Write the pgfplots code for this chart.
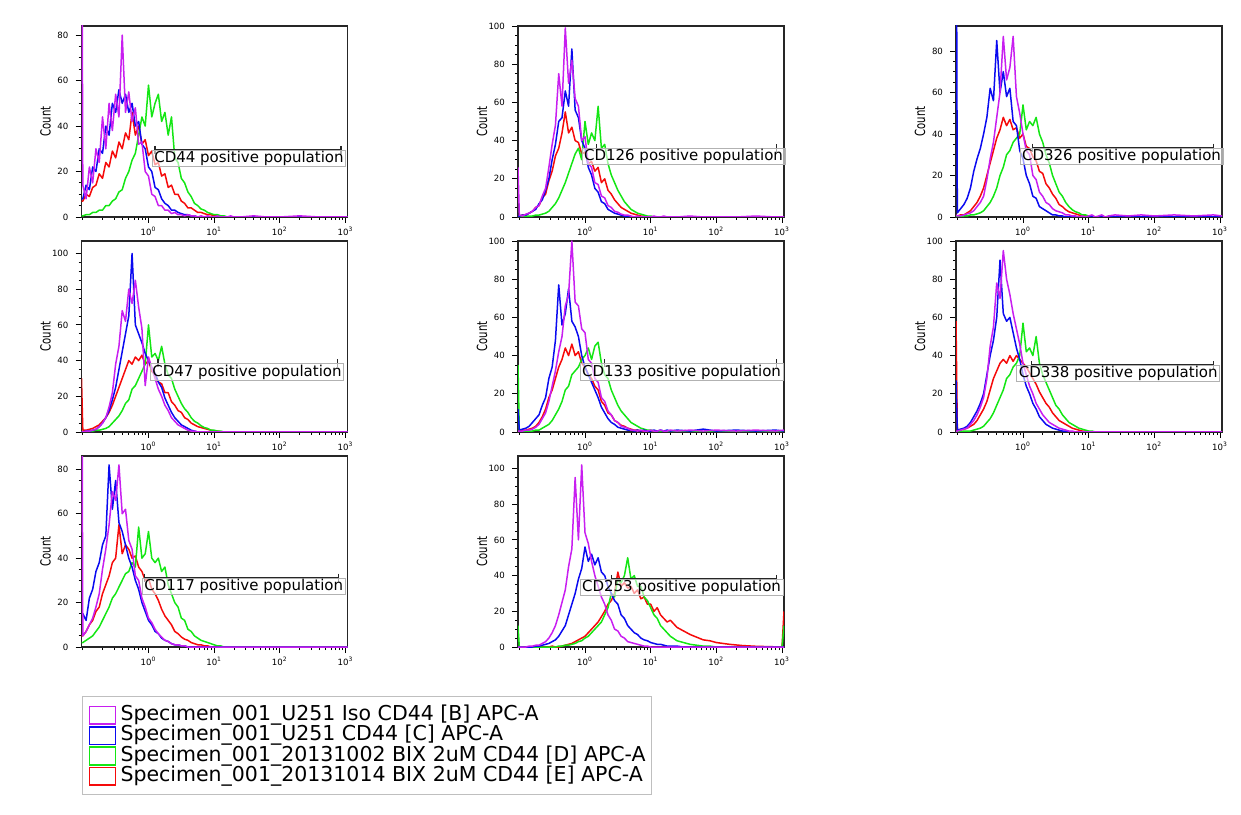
\documentclass[border=0pt]{standalone}
\usepackage{fontspec}
\setmainfont{DejaVu Sans}
\usepackage{graphicx}
\usepackage{pgfplots}
\pgfplotsset{compat=1.18}
\usepackage{pgfplotstable}

\definecolor{cM}{RGB}{200,30,240}
\definecolor{cB}{RGB}{10,10,240}
\definecolor{cG}{RGB}{20,230,20}
\definecolor{cR}{RGB}{245,10,10}

% ---------- CD44 ----------
\pgfplotstableread{
lx m b g r
-1.02 200 8 0.5 7
-1.00 14 8 0.5 7
-0.95 8 14 1 10
-0.90 22 12 1 9
-0.85 15 22 2 13
-0.80 30 20 2 14
-0.75 24 30 3 19
-0.70 44 28 3 17
-0.65 30 40 5 24
-0.60 50 36 5 22
-0.55 38 50 7 29
-0.50 54 46 8 26
-0.45 44 56 11 33
-0.40 80 50 12 30
-0.35 46 54 17 37
-0.30 55 46 20 34
-0.25 42 50 25 46
-0.20 48 40 28 36
-0.15 32 42 36 40
-0.10 33 32 44 32
-0.05 20 30 40 34
0.00 18 22 58 27
0.05 10 20 44 29
0.10 9 13 50 23
0.15 5 12 54 24
0.20 5 8 42 18
0.25 3 6 46 19
0.30 3 5 36 13
0.35 1.5 3 44 14
0.40 2 3 26 10
0.45 1 2 24 10
0.50 1 1.5 17 7
0.55 0.5 1 15 6
0.60 1 1 11 4
0.65 0.5 0.5 9 4
0.70 0.5 0.5 6 3
0.75 0 0 5 2
0.80 0.5 0 3.5 2
0.85 0 0 3 1.5
0.90 0.5 0 2 1
0.95 0 0 1.5 1
1.00 0 0 1 0.5
1.05 0.5 0 1 0.5
1.10 0 0 0.5 0.5
1.15 0 0 0.5 0
1.20 0 0 0 0
1.25 0.5 0 0 0
1.30 0 0 0 0
1.40 0 0 0 0
1.60 0.5 0 0 0
1.80 0 0 0 0
2.00 0 0 0 0
2.30 0.5 0 0 0
2.60 0 0 0 0
2.90 0 0 0 0
3.03 0 0 0 0
}\tA

% ---------- CD126 ----------
\pgfplotstableread{
lx m b g r
-1.02 26 0.5 0 0.5
-1.00 1 0.5 0 0.5
-0.95 0.5 1 0 1
-0.90 1.5 1 0.5 1
-0.85 2 2 0.5 2
-0.80 3 3 0.5 3
-0.75 5 4 1 5
-0.70 6 7 1 6
-0.65 11 9 1.5 10
-0.60 15 14 2 12
-0.55 26 20 3 19
-0.50 38 30 5 24
-0.45 48 38 7 32
-0.40 75 50 10 36
-0.35 58 52 14 44
-0.30 99 66 18 55
-0.25 70 58 23 44
-0.20 82 88 28 47
-0.15 62 56 33 40
-0.10 58 52 36 39
-0.05 40 40 30 33
0.00 42 36 50 34
0.05 28 26 38 28
0.10 26 22 44 29
0.15 18 15 40 24
0.20 17 13 58 26
0.25 11 8 36 18
0.30 10 7 38 20
0.35 6 4 28 14
0.40 5 3 22 12
0.45 3 2 18 9
0.50 2.5 1.5 14 7
0.55 1.5 1 11 5
0.60 1 0.5 8 4
0.65 1 0.5 6 3
0.70 0.5 0 4 2
0.75 0 0 3 1.5
0.80 0.5 0 2 1
0.85 0 0 1.5 0.5
0.90 0 0 1 0.5
0.95 0 0 0.5 0
1.00 0 0 0.5 0
1.05 0.5 0 0 0
1.10 0 0 0 0
1.15 0 0 0 0
1.20 0.5 0 0 0
1.25 0 0 0 0
1.30 0 0 0 0
1.40 0 0 0 0
1.60 0.5 0 0 0
1.80 0 0 0 0
2.00 0 0 0 0
2.30 0 0 0 0
2.60 0.5 0 0 0
2.90 0 0 0 0
3.03 0 0 0 0
}\tB

% ---------- CD326 ----------
\pgfplotstableread{
lx m b g r
-1.02 1 200 0 0.5
-1.00 0.5 2 0 0.5
-0.95 0.5 4 0 1
-0.90 1 6 0.5 1
-0.85 1.5 9 0.5 2
-0.80 2 14 1 3
-0.75 3 22 1 5
-0.70 5 28 1.5 7
-0.65 7 33 2 10
-0.60 10 40 3 14
-0.55 18 48 5 20
-0.50 28 62 7 26
-0.45 36 56 10 32
-0.40 48 85 14 38
-0.35 60 60 20 42
-0.30 87 70 24 48
-0.25 66 58 30 44
-0.20 72 62 32 47
-0.15 87 46 36 42
-0.10 58 44 38 43
-0.05 50 32 40 38
0.00 40 28 54 40
0.05 32 20 42 34
0.10 30 16 46 33
0.15 20 10 44 29
0.20 18 9 48 27
0.25 12 5 40 22
0.30 10 4 36 21
0.35 7 3 30 16
0.40 6 2 26 14
0.45 4 1 20 11
0.50 3 1 16 9
0.55 2.5 0.5 12 6
0.60 2 0.5 10 5
0.65 1 0 7 3.5
0.70 1 0 5 2.5
0.75 0.5 0 3.5 2
0.80 0.5 0 2.5 1.5
0.85 0 0 2 1
0.90 0.5 0 1 0.5
0.95 0 0 1 0.5
1.00 0.5 0 0.5 0
1.05 1 0 0.5 0
1.10 0 0 0 0
1.15 0.5 0 0 0
1.20 1 0 0 0
1.25 0 0 0 0
1.30 0.5 0 0 0
1.40 1 0 0 0
1.60 0.5 0 0 0
1.80 1 0 0 0
2.00 0.5 0 0 0
2.30 1 0 0 0
2.60 0.5 0 0 0
2.90 1 0 0 0
3.03 0.5 0 0 0
}\tC

% ---------- CD47 ----------
\pgfplotstableread{
lx m b g r
-1.02 0 0 0 30
-1.00 0 0 0 1
-0.95 0.5 0.5 0 1
-0.90 0.5 0.5 0.5 1.5
-0.85 1 1 0.5 2
-0.80 1.5 1.5 1 3
-0.75 3 3 1 4
-0.70 5 5 1.5 6
-0.65 8 8 2 8
-0.60 14 12 3 11
-0.55 22 18 5 15
-0.50 38 25 7 20
-0.45 48 35 9 25
-0.40 68 45 12 30
-0.35 62 55 16 35
-0.30 80 65 18 40
-0.25 72 100 24 38
-0.20 85 60 26 42
-0.15 70 55 30 40
-0.10 58 50 34 43
-0.05 26 44 38 38
0.00 42 40 60 40
0.05 36 36 42 34
0.10 30 33 44 32
0.15 24 28 40 28
0.20 20 25 48 27
0.25 15 19 38 22
0.30 12 15 32 22
0.35 8 11 30 17
0.40 6 8 24 15
0.45 4 6 20 12
0.50 3 4 16 11
0.55 2 3 13 8
0.60 1 2 11 7
0.65 0.5 1 8 5
0.70 0.5 0.5 6 4
0.75 0 0 5 3
0.80 0 0 3.5 2.5
0.85 0 0 2.5 2
0.90 0 0 2 1.5
0.95 0 0 1 1
1.00 0 0 1 0.5
1.05 0 0 0.5 0.5
1.10 0 0 0.5 0
1.15 0 0 0 0
1.20 0 0 0 0
1.25 0 0 0 0
1.30 0 0 0 0
1.40 0 0 0 0
1.60 0 0 0 0
1.80 0 0 0 0
2.00 0 0 0 0
2.30 0 0 0 0
2.60 0 0 0 0
2.90 0 0 0 0
3.03 0 0 0 0
}\tD

% ---------- CD133 ----------
\pgfplotstableread{
lx m b g r
-1.02 0.5 12 35 0.5
-1.00 0.5 1 0 0.5
-0.95 0.5 1.5 0 1
-0.90 1 2 0.5 1
-0.85 1 3 0.5 1.5
-0.80 1.5 5 0.5 2
-0.75 2.5 7 1 3
-0.70 4 9 1 5
-0.65 7 14 2 8
-0.60 10 18 3 12
-0.55 16 28 4 18
-0.50 24 34 6 22
-0.45 32 48 9 28
-0.40 42 77 12 34
-0.35 50 56 16 38
-0.30 66 62 22 44
-0.25 72 75 24 40
-0.20 100 58 30 46
-0.15 68 55 32 40
-0.10 66 50 34 42
-0.05 54 40 38 36
0.00 52 34 40 34
0.05 38 30 44 30
0.10 36 26 38 28
0.15 28 22 45 24
0.20 26 18 47 22
0.25 18 13 36 16
0.30 16 10 30 14
0.35 11 7 28 10
0.40 9 5 22 9
0.45 6 4 18 6
0.50 5 2.5 14 5
0.55 3 2 11 3.5
0.60 2.5 1.5 9 3
0.65 2 1 7 2
0.70 1 1 5 1.5
0.75 1 0.5 4 1
0.80 0.5 1 3 1
0.85 1 0.5 2 0.5
0.90 0.5 1 1.5 0.5
0.95 0.5 0.5 1 0
1.00 1 0.5 1 0
1.05 0.5 1 0.5 0
1.10 0.5 0.5 0.5 0
1.15 1 1 0 0
1.20 0.5 0.5 0 0
1.25 0.5 1 0 0
1.30 1 0.5 0 0
1.40 0.5 1 0 0
1.60 1 0.5 0 0
1.80 0.5 1.5 0 0
2.00 1 0.5 0 0
2.30 0.5 1 0 0
2.60 1 0.5 0 0
2.90 0.5 1 0 0
3.03 1 0.5 0 0
}\tE

% ---------- CD338 ----------
\pgfplotstableread{
lx m b g r
-1.02 0.5 27 0 58
-1.00 0.5 1 0 1
-0.95 1 1.5 0 1
-0.90 1.5 2 0.5 1.5
-0.85 2 3 0.5 2
-0.80 4 5 0.5 3
-0.75 6 8 1 4
-0.70 9 11 1.5 6
-0.65 13 15 2 9
-0.60 18 20 3 12
-0.55 28 30 5 16
-0.50 45 40 7 22
-0.45 55 48 10 28
-0.40 78 60 14 32
-0.35 70 90 18 36
-0.30 95 62 22 38
-0.25 80 58 28 36
-0.20 72 60 30 40
-0.15 62 52 34 37
-0.10 54 44 36 40
-0.05 46 38 40 38
0.00 36 30 57 36
0.05 30 24 42 34
0.10 24 20 44 31
0.15 20 15 40 28
0.20 15 12 50 25
0.25 12 8 36 21
0.30 9 6 30 18
0.35 7 4 26 15
0.40 5 3 22 13
0.45 4 2 18 10
0.50 3 1.5 14 8
0.55 2 1 12 6
0.60 1.5 0.5 9 5
0.65 1 0.5 7 4
0.70 0.5 0 5 3
0.75 0.5 0 4 2
0.80 0 0 3 1.5
0.85 0 0 2 1
0.90 0 0 1.5 0.5
0.95 0 0 1 0.5
1.00 0 0 0.5 0
1.05 0 0 0.5 0
1.10 0 0 0 0
1.15 0 0 0 0
1.20 0 0 0 0
1.25 0 0 0 0
1.30 0 0 0 0
1.40 0 0 0 0
1.60 0 0 0 0
1.80 0 0 0 0
2.00 0 0 0 0
2.30 0 0 0 0
2.60 0 0 0 0
2.90 0 0 0 0
3.03 0 0 0 0
}\tF

% ---------- CD117 ----------
\pgfplotstableread{
lx m b g r
-1.02 200 15 2 5
-1.00 5 15 2 5
-0.95 7 12 3 7
-0.90 10 22 4 10
-0.85 13 26 5 12
-0.80 18 34 7 16
-0.75 24 38 9 18
-0.70 35 46 12 24
-0.65 44 50 15 28
-0.60 55 82 18 32
-0.55 70 62 22 38
-0.50 66 75 24 40
-0.45 82 56 27 55
-0.40 60 52 30 42
-0.35 62 46 33 46
-0.30 48 40 34 44
-0.25 44 36 38 40
-0.20 32 30 36 41
-0.15 30 26 54 36
-0.10 22 20 40 34
-0.05 18 16 42 30
0.00 13 12 52 31
0.05 11 10 40 26
0.10 8 7 38 24
0.15 6 6 40 21
0.20 4.5 4 34 17
0.25 3 3 36 14
0.30 2.5 2.5 28 12
0.35 1.5 1.5 24 10
0.40 1 1 20 7
0.45 1 1 18 6
0.50 0.5 0.5 13 4.5
0.55 0.5 0.5 12 3.5
0.60 0 0 8 3
0.65 0 0 7 2
0.70 0 0 5 1.5
0.75 0 0 4 1
0.80 0 0 3 1
0.85 0 0 2.5 0.5
0.90 0 0 2 0.5
0.95 0 0 1.5 0
1.00 0 0 1 0
1.05 0 0 0.5 0
1.10 0 0 0.5 0
1.15 0 0 0 0
1.20 0 0 0 0
1.25 0 0 0 0
1.30 0 0 0 0
1.40 0 0 0 0
1.60 0 0 0 0
1.80 0 0 0 0
2.00 0 0 0 0
2.30 0 0 0 0
2.60 0 0 0 0
2.90 0 0 0 0
3.03 0 0 0 0
}\tG

% ---------- CD253 ----------
\pgfplotstableread{
lx m b g r
-1.02 0 0 12 0
-1.00 0 0 0 0
-0.95 0 0 0 0
-0.90 0 0 0 0
-0.85 0.5 0 0 0
-0.80 0.5 0 0 0
-0.75 1 0.5 0 0
-0.70 1 0.5 0 0
-0.65 2 1 0 0
-0.60 3 1.5 0 0
-0.55 5 2 0 0
-0.50 8 3 0 0.5
-0.45 12 4 0 0
-0.40 18 6 0.5 0
-0.35 25 9 0.5 0.5
-0.30 32 12 1 1
-0.25 45 18 1 1.5
-0.20 55 24 1.5 2
-0.15 95 30 2 3
-0.10 60 38 3 4
-0.05 102 44 3.5 5
0.00 64 56 5 6
0.05 58 48 6 8
0.10 48 52 8 10
0.15 40 46 10 12
0.20 34 50 12 14
0.25 28 42 14 17
0.30 24 40 18 20
0.35 18 34 22 24
0.40 15 30 30 26
0.45 10 26 28 30
0.50 9 24 38 42
0.55 6 18 36 34
0.60 5 16 40 36
0.65 3 12 50 33
0.70 2.5 10 38 34
0.75 2 8 40 30
0.80 1.5 7 34 32
0.85 1 5 34 27
0.90 0.5 4 28 28
0.95 0.5 3.5 26 24
1.00 0 2.5 22 24
1.05 0 2 18 20
1.10 0 1.5 16 22
1.15 0 1.5 12 18
1.20 0 1 10 16
1.25 0 0.5 8 14
1.30 0 0.5 6 15
1.40 0 0.5 3.5 11
1.50 0 0 2.5 9
1.60 0 0 1.5 7
1.70 0 0 1 5.5
1.80 0 0 0.5 4
1.90 0 0 0.5 3.5
2.00 0 0 0 2.5
2.10 0 0 0 2
2.20 0 0 0 1.5
2.40 0 0 0 0.8
2.60 0 0 0 0.4
2.80 0 0 0 0.2
3.00 0 0 0 0
3.03 0 0 12 20
}\tH

\newcommand\tickfont{\fontsize{4.3pt}{5pt}\selectfont}

\pgfplotsset{
  panel/.style={
    scale only axis, width=133pt, height=95.5pt, anchor=south west,
    xmin=-1.02, xmax=3.03, ymin=0,
    xtick={0,1,2,3},
    xticklabels={10\textsuperscript{0},10\textsuperscript{1},10\textsuperscript{2},10\textsuperscript{3}},
    minor xtick={-1,-0.699,-0.523,-0.398,-0.301,-0.222,-0.155,-0.097,-0.046,
      0.301,0.477,0.602,0.699,0.778,0.845,0.903,0.954,
      1.301,1.477,1.602,1.699,1.778,1.845,1.903,1.954,
      2.301,2.477,2.602,2.699,2.778,2.845,2.903,2.954},
    minor y tick num=3,
    xtick pos=bottom, ytick pos=left,
    tick align=outside, major tick length=3pt, minor tick length=1.5pt,
    tick style={black, line width=0.4pt},
    axis line style={black!85, line width=0.8pt},
    tick label style={font=\tickfont},
    xticklabel style={yshift=1.5pt},
    /pgf/number format/assume math mode=true,
    ylabel={\scalebox{0.72}[1]{Count}},
    ylabel style={at={(axis description cs:-0.135,0.5)}, anchor=center,
      font=\fontsize{7pt}{8pt}\selectfont},
    clip mode=individual,
    every axis plot/.append style={line width=0.75pt, line join=round},
  },
  sq/.style={legend image code/.code={%
    \path[draw=none] (0pt,0pt) -- (16pt,0pt);
    \draw[draw=#1, fill=none, line width=0.8pt] (1.5pt,-4.4pt) rectangle (14.5pt,4.4pt);}},
}

\newcommand\plotall[1]{%
  \addplot[cR] table[x=lx,y=r]{#1};
  \addplot[cG] table[x=lx,y=g]{#1};
  \addplot[cB] table[x=lx,y=b]{#1};
  \addplot[cM] table[x=lx,y=m]{#1};
}
\newcommand\gate[5]{%
  \addplot[black!85, line width=0.7pt, mark=|, mark size=2pt,
    mark options={line width=0.6pt}] coordinates {(#2,#1) (#3,#1)};
  \node[anchor=north, draw=black!30, line width=0.4pt, fill=white,
    fill opacity=0.6, text opacity=1, inner xsep=1pt, inner ysep=0.4pt,
    font=\fontsize{7.5pt}{8pt}\selectfont] at (axis cs:#4,#1) {#5};
}

\begin{document}
\begin{tikzpicture}
\useasboundingbox (0,0) rectangle (620.5pt,407pt);

% Row 1
\begin{axis}[panel, at={(40.75pt,298.5pt)}, ymax=84, ytick={0,20,40,60,80}]
\plotall\tA
\gate{29.5}{0.10}{2.93}{1.53}{CD44 positive population}
\end{axis}
\begin{axis}[panel, at={(259pt,298.5pt)}, ymax=100, ytick={0,20,40,60,80,100}]
\plotall\tB
\gate{36}{0.175}{2.91}{1.50}{CD126 positive population}
\end{axis}
\begin{axis}[panel, at={(478pt,298.5pt)}, ymax=92, ytick={0,20,40,60,80}]
\plotall\tC
\gate{33.4}{0.15}{2.90}{1.50}{CD326 positive population}
\end{axis}

% Row 2
\begin{axis}[panel, at={(40.75pt,191pt)}, ymax=107, ytick={0,20,40,60,80,100}]
\plotall\tD
\gate{38.4}{0.146}{2.88}{1.50}{CD47 positive population}
\end{axis}
\begin{axis}[panel, at={(259pt,191pt)}, ymax=100, ytick={0,20,40,60,80,100}]
\plotall\tE
\gate{35.9}{0.30}{2.91}{1.47}{CD133 positive population}
\end{axis}
\begin{axis}[panel, at={(478pt,191pt)}, ymax=100, ytick={0,20,40,60,80,100}]
\plotall\tF
\gate{35}{0.13}{2.90}{1.45}{CD338 positive population}
\end{axis}

% Row 3
\begin{axis}[panel, at={(40.75pt,83.5pt)}, ymax=86, ytick={0,20,40,60,80}]
\plotall\tG
\gate{31.2}{-0.06}{2.89}{1.45}{CD117 positive population}
\end{axis}
\begin{axis}[panel, at={(259pt,83.5pt)}, ymax=107, ytick={0,20,40,60,80,100}]
\plotall\tH
\gate{38.1}{0.40}{2.91}{1.47}{CD253 positive population}
\end{axis}

% Legend
\begin{axis}[at={(41pt,9.5pt)}, anchor=south west, scale only axis,
  width=284pt, height=49.5pt, hide axis, xmin=0, xmax=1, ymin=0, ymax=1,
  legend style={at={(0,1)}, anchor=north west, draw=black!25, line width=0.5pt,
    inner xsep=2pt, inner ysep=4.2pt, row sep=0pt,
    font=\fontsize{10.25pt}{10.25pt}\selectfont, cells={anchor=west},
    nodes={inner ysep=0pt, inner xsep=1pt, text height=7.8pt, text depth=2.4pt}}]
\addlegendimage{sq=cM}\addlegendentry{Specimen\_001\_U251 Iso CD44 [B] APC-A}
\addlegendimage{sq=cB}\addlegendentry{Specimen\_001\_U251 CD44 [C] APC-A}
\addlegendimage{sq=cG}\addlegendentry{Specimen\_001\_20131002 BIX 2uM CD44 [D] APC-A}
\addlegendimage{sq=cR}\addlegendentry{Specimen\_001\_20131014 BIX 2uM CD44 [E] APC-A}
\end{axis}
\end{tikzpicture}
\end{document}
